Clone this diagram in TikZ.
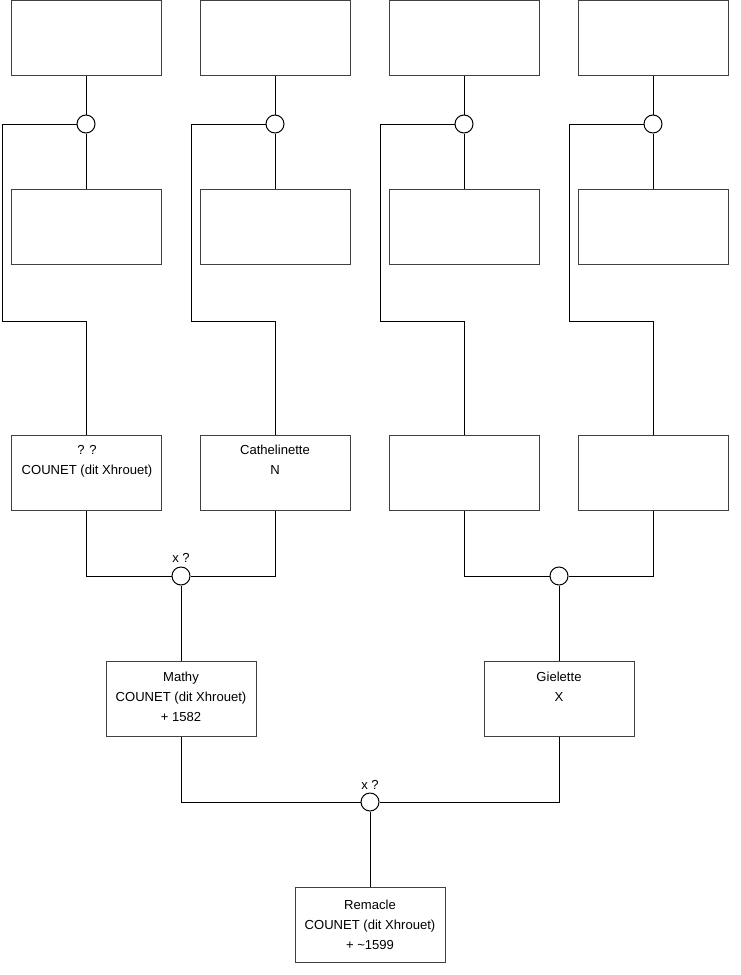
\documentclass[tikz,border=0pt]{standalone}
\usepackage{fontspec}
\setmainfont{Liberation Sans}
\begin{document}
\begin{tikzpicture}[x=0.75pt,y=-0.75pt,
  box/.style={draw=black!75,line width=0.75pt,minimum width=112.5pt,minimum height=56.25pt,inner sep=0pt,fill=white},
  knot/.style={circle,draw=black,line width=0.75pt,minimum size=13.5pt,inner sep=0pt,fill=white},
  txt/.style={anchor=north,inner sep=0pt,align=center,font=\fontsize{9.8}{15}\selectfont},
  lbl/.style={inner sep=0pt,font=\fontsize{9.8}{12}\selectfont},
  conn/.style={draw=black,line width=0.75pt}]
\useasboundingbox (0,0) rectangle (740,975);
% top row
\node[box] (a1) at (86,38) {};
\node[box] (a2) at (275,38) {};
\node[box] (a3) at (464,38) {};
\node[box] (a4) at (653,38) {};
% second row
\node[box] (b1) at (86,227) {};
\node[box] (b2) at (275,227) {};
\node[box] (b3) at (464,227) {};
\node[box] (b4) at (653,227) {};
% knots
\node[knot] (c1) at (86,124) {};
\node[knot] (c2) at (275,124) {};
\node[knot] (c3) at (464,124) {};
\node[knot] (c4) at (653,124) {};
% third row
\node[box] (p1) at (86,472.5) {};
\node[box] (p2) at (275,472.5) {};
\node[box] (p3) at (464,472.5) {};
\node[box] (p4) at (653,472.5) {};
\node[txt] (tp1) at (87,440) {\strut? ?\\COUNET (dit Xhrouet)};
\node[txt] (tp2) at (275,440) {\strut Cathelinette\\N};
% coordinates
\coordinate (k1) at (2,321);
\coordinate (k2) at (191,321);
\coordinate (k3) at (380,321);
\coordinate (k4) at (569,321);
\foreach \i in {1,2,3,4}{
  \draw[conn] (a\i.south) -- (c\i.north);
  \draw[conn] (c\i.south) -- (b\i.north);
  \draw[conn] (c\i.west) -| (k\i) -| (p\i.north);
}
% generation 2
\node[knot] (m1) at (181,576) {};
\node[knot] (m2) at (559,576) {};
\node[lbl] (x1) at (181,558) {x ?};
\draw[conn] (p1.south) |- (m1.west);
\draw[conn] (p2.south) |- (m1.east);
\draw[conn] (p3.south) |- (m2.west);
\draw[conn] (p4.south) |- (m2.east);
\node[box] (q1) at (181,699) {};
\node[box] (q2) at (559,699) {};
\node[txt] (tq1) at (181,667) {\strut Mathy\\COUNET (dit Xhrouet)\\+ 1582};
\node[txt] (tq2) at (559,667) {\strut Gielette\\X};
\draw[conn] (m1.south) -- (q1.north);
\draw[conn] (m2.south) -- (q2.north);
% generation 3
\node[knot] (r) at (370,802) {};
\node[lbl] (x2) at (370,785) {x ?};
\draw[conn] (q1.south) |- (r.west);
\draw[conn] (q2.south) |- (r.east);
\node[box] (s) at (370,925) {};
\node[txt] (ts) at (370,895) {\strut Remacle\\COUNET (dit Xhrouet)\\+ \textasciitilde 1599};
\draw[conn] (r.south) -- (s.north);
\end{tikzpicture}
\end{document}
